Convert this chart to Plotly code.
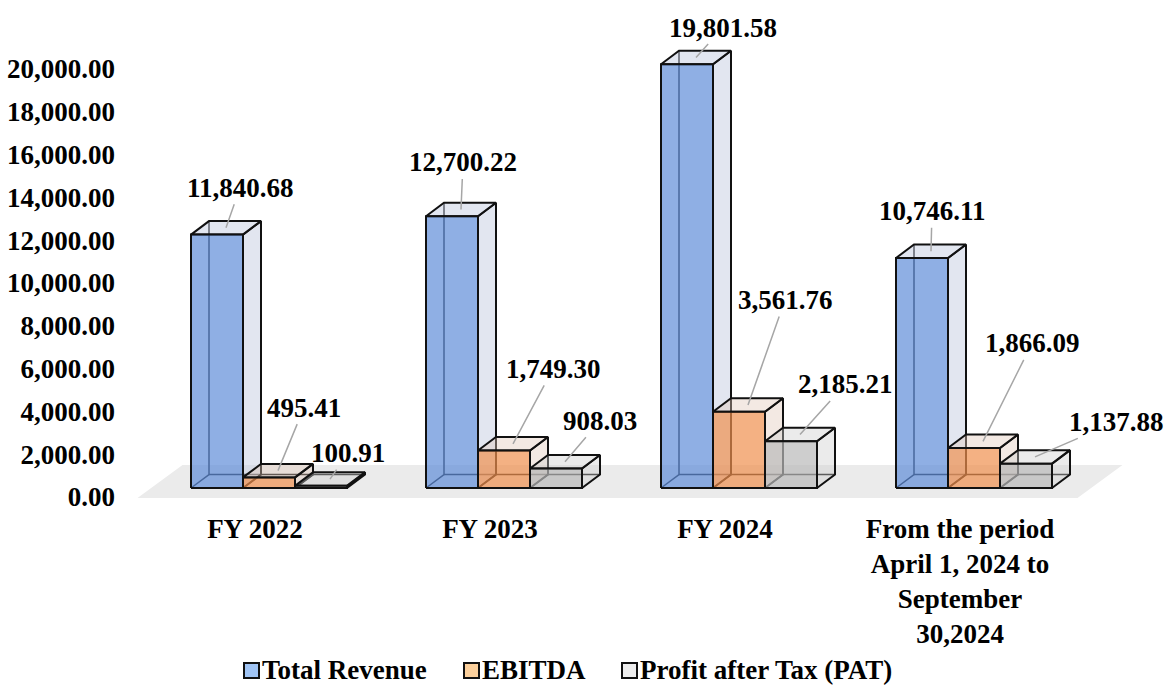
import plotly.graph_objects as go

# ---------------- data ----------------
categories = ["FY 2022", "FY 2023", "FY 2024",
              "From the period<br>April 1, 2024 to<br>September<br>30,2024"]
series_names = ["Total Revenue", "EBITDA", "Profit after Tax (PAT)"]
total_revenue = [11840.68, 12700.22, 19801.58, 10746.11]
ebitda = [495.41, 1749.30, 3561.76, 1866.09]
pat = [100.91, 908.03, 2185.21, 1137.88]
y_tick_values = [0, 2000, 4000, 6000, 8000, 10000, 12000, 14000, 16000, 18000, 20000]

# ---------------- style ----------------
FONT = "Liberation Serif"
FS = 27
W, H = 1165, 688
M_L, M_R, M_T, M_B = 120, 0, 0, 178
PX_PER_CAT = 235.0            # pixels per category step
PX_PER_VAL = 21.4 / 1000.0    # pixels per value unit
ZERO_PX_Y = 488               # pixel row of value 0 (front face base)
CAT0_PX_X = 255               # pixel column of the first category label

x_per_px = 1.0 / PX_PER_CAT
y_per_px = 1.0 / PX_PER_VAL

BAR_W = 52 * x_per_px
FIRST_OFF = -64 * x_per_px
DX = 18 * x_per_px
DY = 13.5 * y_per_px
FLOOR_DX = 45 * x_per_px
FLOOR_FRONT = -10 * y_per_px
FLOOR_BACK = 23 * y_per_px

front_colors = ["rgba(95,141,216,0.7)", "rgba(239,144,78,0.7)", "rgba(185,185,185,0.7)"]
side_colors = ["rgba(190,200,222,0.45)", "rgba(225,200,185,0.4)", "rgba(205,205,205,0.4)"]
legend_colors = ["#A0C4F4", "#FBCF9B", "#EDEDED"]
EDGE = "#111111"

label_offsets = [
    [(14, -40), (2, -47), (27, -30), (1, -40)],
    [(26, -63), (40, -75), (37, -105), (49, -98)],
    [(18, -26), (35, -41), (45, -50), (81, -35)],
]
# legend layout (pixel columns of each swatch centre, row of legend centre)
LEG_SWATCH_PX = [251, 471, 629]
LEG_ROW_PX = 670

series_values = [total_revenue, ebitda, pat]
n = len(categories)

fig = go.Figure()

# floor
fig.add_trace(go.Scatter(
    x=[-0.5, n - 0.5, n - 0.5 + FLOOR_DX, -0.5 + FLOOR_DX, -0.5],
    y=[FLOOR_FRONT, FLOOR_FRONT, FLOOR_BACK, FLOOR_BACK, FLOOR_FRONT],
    fill="toself", fillcolor="#EBEBEB", mode="lines", line=dict(width=0),
    showlegend=False, hoverinfo="skip"))


def poly(xs, ys, fillcolor, width=2):
    fig.add_trace(go.Scatter(
        x=xs + [xs[0]], y=ys + [ys[0]], fill="toself", fillcolor=fillcolor,
        mode="lines", line=dict(color=EDGE, width=width),
        showlegend=False, hoverinfo="skip"))


annotations = []
for i in range(n):
    for s, vals in enumerate(series_values):
        v = vals[i]
        L = i + FIRST_OFF + s * BAR_W
        R = L + BAR_W
        # hidden (back) edges
        fig.add_trace(go.Scatter(
            x=[L, L + DX, L + DX, None, L + DX, R + DX],
            y=[0, DY, v + DY, None, DY, DY],
            mode="lines", line=dict(color=EDGE, width=1.5),
            showlegend=False, hoverinfo="skip"))
        # side face
        poly([R, R + DX, R + DX, R], [0, DY, v + DY, v], side_colors[s])
        # top face
        poly([L, R, R + DX, L + DX], [v, v, v + DY, v + DY], side_colors[s])
        # front face
        poly([L, R, R, L], [0, 0, v, v], front_colors[s])
        ax, ay = label_offsets[s][i]
        annotations.append(dict(
            x=(L + R) / 2 + DX / 2, y=v + DY / 2, xref="x", yref="y",
            text=f"{v:,.2f}", showarrow=True, ax=ax, ay=ay,
            arrowhead=0, arrowwidth=1.5, arrowcolor="#A6A6A6", standoff=0,
            font=dict(family=FONT, size=FS, color="black", weight="bold")))

# legend (drawn as swatch + label annotations, positioned in paper space)
plot_w = W - M_L - M_R
plot_h = H - M_T - M_B
leg_y = (H - M_B - LEG_ROW_PX) / plot_h
for s, name in enumerate(series_names):
    sx = (LEG_SWATCH_PX[s] - M_L) / plot_w
    annotations.append(dict(
        x=sx, y=leg_y, xref="paper", yref="paper", text=" ", showarrow=False,
        width=13, height=13, borderpad=0, borderwidth=2, bordercolor=EDGE,
        bgcolor=legend_colors[s], xanchor="center", yanchor="middle",
        font=dict(size=6)))
    annotations.append(dict(
        x=(LEG_SWATCH_PX[s] + 9 - M_L) / plot_w, y=leg_y, xref="paper", yref="paper",
        text=name, showarrow=False, xanchor="left", yanchor="middle",
        font=dict(family=FONT, size=FS, color="black", weight="bold")))

x_lo = (M_L - CAT0_PX_X) * x_per_px
x_hi = (W - M_R - CAT0_PX_X) * x_per_px
y_hi = (ZERO_PX_Y - M_T) * y_per_px
y_lo = (ZERO_PX_Y - (M_T + plot_h)) * y_per_px

fig.update_layout(
    width=W, height=H,
    margin=dict(l=M_L, r=M_R, t=M_T, b=M_B, pad=0),
    paper_bgcolor="white", plot_bgcolor="white",
    font=dict(family=FONT, color="black"),
    xaxis=dict(range=[x_lo, x_hi], showgrid=False, zeroline=False, showline=False,
               tickmode="array", tickvals=list(range(n)), ticktext=categories,
               tickfont=dict(family=FONT, size=FS, color="black", weight="bold"),
               ticks="", fixedrange=True),
    yaxis=dict(range=[y_lo, y_hi], showgrid=False, zeroline=False, showline=False,
               tickmode="array", tickvals=y_tick_values,
               ticktext=[f"{t:,.2f}" for t in y_tick_values],
               tickfont=dict(family=FONT, size=FS, color="black", weight="bold"),
               ticks="", ticklabelshift=9, ticklabelstandoff=4, fixedrange=True),
    showlegend=False,
    annotations=annotations,
)

fig.write_html("out.html", config={"displayModeBar": False},
               post_script="document.body.style.margin='0';document.body.style.padding='0';")
